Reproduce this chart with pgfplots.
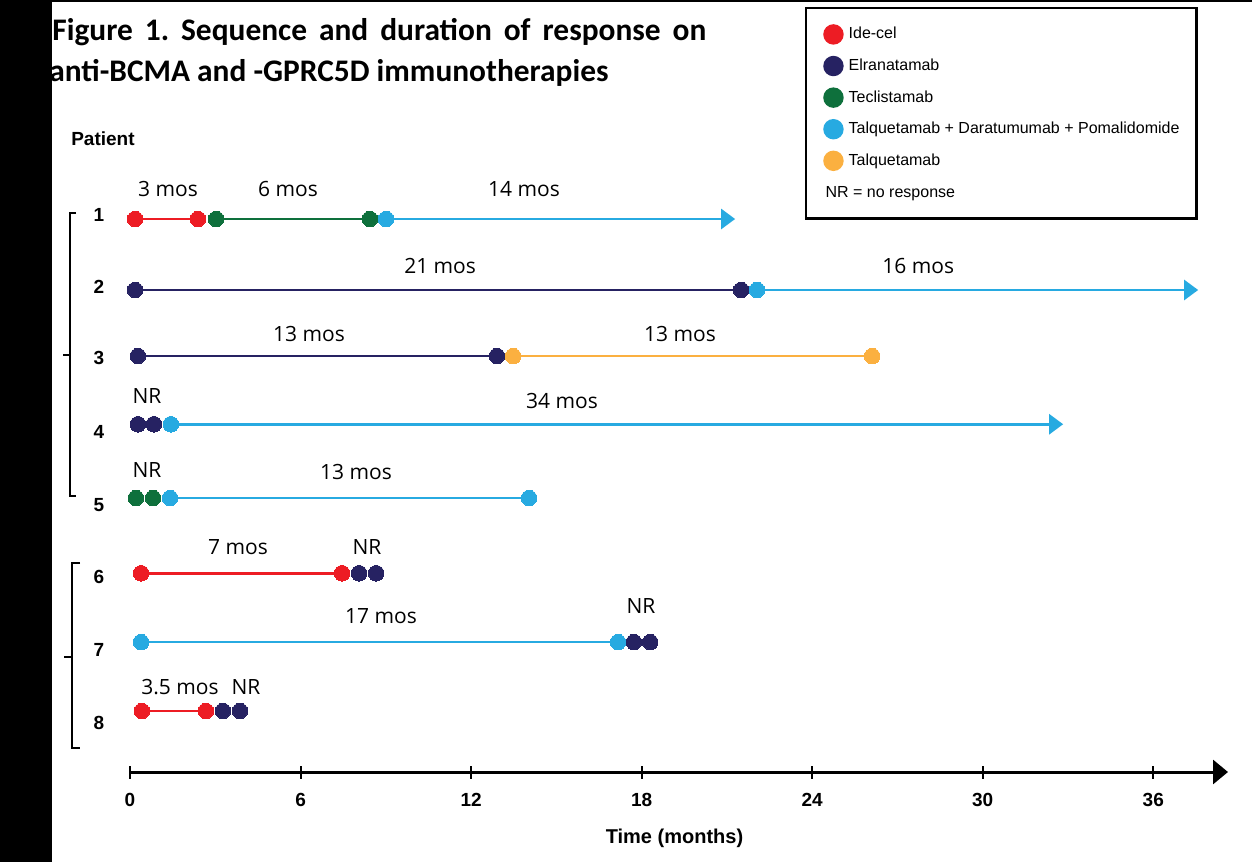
\documentclass[border=0pt]{standalone}
\usepackage{fontspec}
\setmainfont{Liberation Sans}
\newfontfamily\titlefont{Carlito}
\newfontfamily\lblfont{Open Sans}
\usepackage{pgfplots}
\pgfplotsset{compat=1.18}
\usetikzlibrary{arrows.meta}
\definecolor{idecel}{RGB}{237,28,36}
\definecolor{elra}{RGB}{38,34,98}
\definecolor{tecli}{RGB}{14,112,60}
\definecolor{tdp}{RGB}{39,170,225}
\definecolor{talq}{RGB}{251,176,64}
\frenchspacing
\begin{document}
\begin{tikzpicture}[x=0.5pt,y=-0.5pt]
\path[use as bounding box, fill=white] (0,0) rectangle (1252,862);
\begin{axis}[
  at={(65pt,-386pt)}, anchor=south west,
  scale only axis, width=549pt, height=386pt,
  xmin=0, xmax=38.63, ymin=0.132, ymax=11.116,
  axis x line=bottom, axis y line=none,
  every outer x axis line/.append style={line width=1.5pt, -{Triangle[length=7.5pt,width=12pt]}},
  x axis line style={line width=1.5pt, -{Triangle[length=7.5pt,width=12pt]}},
  xtick={0,6,...,36}, tick align=center, major tick length=6.5pt,
  xtick style={line width=1pt, black},
  /pgf/number format/assume math mode=true,
  xticklabel style={font=\bfseries\fontsize{9.5pt}{11pt}\selectfont, anchor=center, yshift=-10.5pt},
  xlabel={Time (months)},
  xlabel style={font=\bfseries\fontsize{10pt}{12pt}\selectfont, at={(axis description cs:0.4959,0)}, anchor=center, yshift=-33pt},
  clip=false,
  seg/.style={line width=1.3pt, mark=*, mark size=3.9pt, mark options={line width=0pt}, forget plot},
  arr/.style={seg, mark indices={1}, -{Triangle[length=7pt,width=10pt]}},
  pts/.style={only marks, mark=*, mark size=3.9pt, mark options={line width=0pt}, forget plot},
  legend style={at={(0.6148,0.9909)}, anchor=north west, draw=black, line width=1.2pt, fill=white,
    inner xsep=8.5pt, inner ysep=8pt, row sep=5.6pt, column sep=2.5pt,
    font=\fontsize{8pt}{9.6pt}\selectfont, cells={anchor=west},
    nodes={inner sep=0pt, text height=6pt, text depth=1.6pt}},
  legend cell align=left,
]
% legend
\addlegendimage{legend image code/.code={\fill[idecel] (0pt,0pt) circle (4.5pt);}}
\addlegendentry{Ide-cel}
\addlegendimage{legend image code/.code={\fill[elra] (0pt,0pt) circle (4.5pt);}}
\addlegendentry{Elranatamab}
\addlegendimage{legend image code/.code={\fill[tecli] (0pt,0pt) circle (4.5pt);}}
\addlegendentry{Teclistamab}
\addlegendimage{legend image code/.code={\fill[tdp] (0pt,0pt) circle (4.5pt);}}
\addlegendentry{Talquetamab + Daratumumab + Pomalidomide}
\addlegendimage{legend image code/.code={\fill[talq] (0pt,0pt) circle (4.5pt);}}
\addlegendentry{Talquetamab}
\addlegendimage{legend image code/.code={}}
\addlegendentry[text height=7.5pt, text depth=2.6pt]{\hspace*{-11.5pt}NR = no response}
% Patient 1
\addplot[seg, idecel] coordinates {(0.18,8) (2.39,8)};
\addplot[seg, tecli] coordinates {(3.03,8) (8.44,8)};
\addplot[arr, tdp] coordinates {(9.01,8) (21.29,8)};
% Patient 2
\addplot[seg, elra] coordinates {(0.18,6.99) (21.50,6.99)};
\addplot[arr, tdp] coordinates {(22.06,6.99) (37.58,6.99)};
% Patient 3
\addplot[seg, elra] coordinates {(0.28,6.05) (12.91,6.05)};
\addplot[seg, talq] coordinates {(13.48,6.05) (26.11,6.05)};
% Patient 4
\addplot[pts, elra] coordinates {(0.28,5.08) (0.84,5.08)};
\addplot[arr, tdp] coordinates {(1.44,5.08) (32.83,5.08)};
% Patient 5
\addplot[pts, tecli] coordinates {(0.21,4.03) (0.81,4.03)};
\addplot[seg, tdp] coordinates {(1.41,4.03) (14.04,4.03)};
% Patient 6
\addplot[seg, idecel] coordinates {(0.39,2.96) (7.46,2.96)};
\addplot[pts, elra] coordinates {(8.06,2.96) (8.66,2.96)};
% Patient 7
\addplot[seg, tdp] coordinates {(0.39,1.98) (17.17,1.98)};
\addplot[pts, elra] coordinates {(17.73,1.98) (18.30,1.98)};
% Patient 8
\addplot[seg, idecel] coordinates {(0.42,1.00) (2.67,1.00)};
\addplot[pts, elra] coordinates {(3.27,1.00) (3.87,1.00)};
% duration labels
\tikzset{lbl/.style={font=\lblfont\fontsize{10.5pt}{12pt}\selectfont, inner sep=0pt, anchor=center}}
\node[lbl] at (axis cs:1.34,8.427) {3 mos};
\node[lbl] at (axis cs:5.56,8.427) {6 mos};
\node[lbl] at (axis cs:13.86,8.427) {14 mos};
\node[lbl] at (axis cs:10.91,7.331) {21 mos};
\node[lbl] at (axis cs:27.73,7.331) {16 mos};
\node[lbl] at (axis cs:6.30,6.364) {13 mos};
\node[lbl] at (axis cs:19.35,6.364) {13 mos};
\node[lbl] at (axis cs:0.60,5.482) {NR};
\node[lbl] at (axis cs:15.20,5.411) {34 mos};
\node[lbl] at (axis cs:0.60,4.429) {NR};
\node[lbl] at (axis cs:7.95,4.400) {13 mos};
\node[lbl] at (axis cs:3.80,3.333) {7 mos};
\node[lbl] at (axis cs:8.34,3.333) {NR};
\node[lbl] at (axis cs:8.83,2.352) {17 mos};
\node[lbl] at (axis cs:17.98,2.494) {NR};
\node[lbl] at (axis cs:1.76,1.341) {3.5 mos};
\node[lbl] at (axis cs:4.08,1.341) {NR};
% patient numbers
\tikzset{pn/.style={font=\bfseries\fontsize{9.5pt}{11pt}\selectfont, inner sep=0pt, anchor=center}}
\node[pn] at (axis cs:-0.95,9.138) {Patient};
\node[pn] at (axis cs:-1.09,8.057) {1};
\node[pn] at (axis cs:-1.09,7.033) {2};
\node[pn] at (axis cs:-1.09,6.022) {3};
\node[pn] at (axis cs:-1.09,4.970) {4};
\node[pn] at (axis cs:-1.09,3.931) {5};
\node[pn] at (axis cs:-1.09,2.906) {6};
\node[pn] at (axis cs:-1.09,1.868) {7};
\node[pn] at (axis cs:-1.09,0.829) {8};
\end{axis}
% title
\node[anchor=base west, inner sep=0pt, font=\titlefont\bfseries\fontsize{15.7pt}{19pt}\selectfont] at (52,40) {\makebox[327pt][s]{Figure 1. Sequence and duration of response on}};
\node[anchor=base west, inner sep=0pt, font=\titlefont\bfseries\fontsize{15.7pt}{19pt}\selectfont] at (49,81) {anti-BCMA and -GPRC5D immunotherapies};
% frame bits
\fill[black] (0,0) rectangle (52,862);
\fill[black] (0,0) rectangle (1252,2);
% brackets
\draw[line width=1.1pt] (76,213) -- (70,213) -- (70,496) -- (76,496);
\draw[line width=1.1pt] (70,355) -- (63,355);
\draw[line width=1.1pt] (80,563) -- (72,563) -- (72,748) -- (80,748);
\draw[line width=1.1pt] (72,657) -- (64,657);
\end{tikzpicture}
\end{document}
